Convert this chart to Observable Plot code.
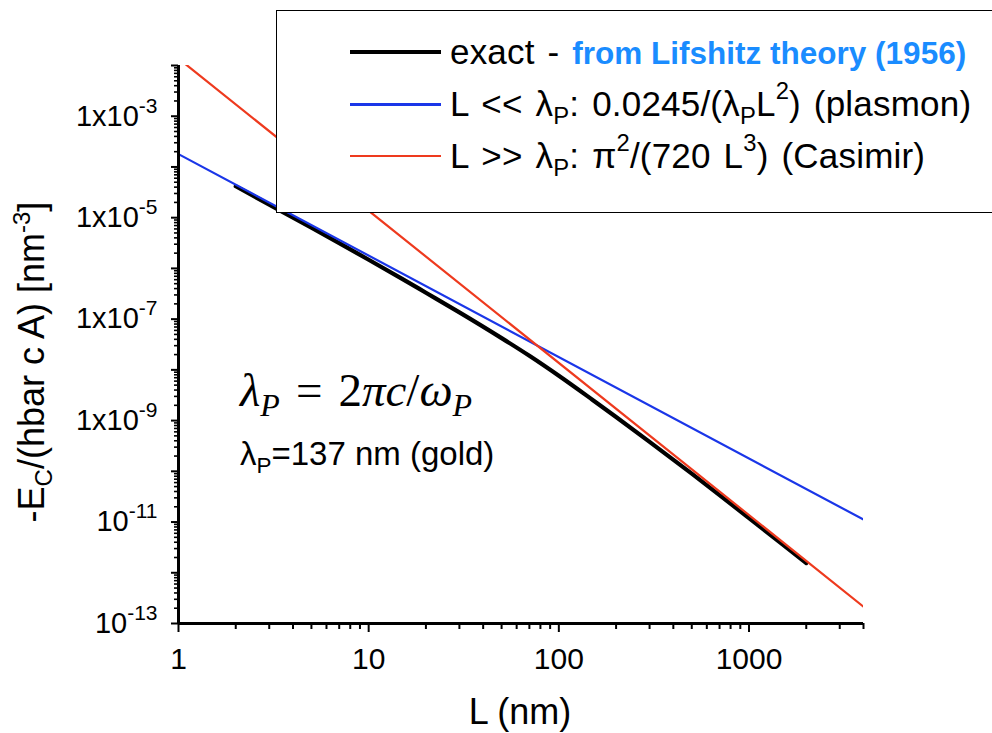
<!DOCTYPE html>
<html>
<head>
<meta charset="utf-8">
<script src="https://cdn.jsdelivr.net/npm/d3@7"></script>
<script src="https://cdn.jsdelivr.net/npm/@observablehq/plot@0.6"></script>
<style>
  body { margin: 0; background: #fff; }
  #wrap { position: relative; width: 992px; height: 733px; overflow: hidden;
          font-family: Arial, "Liberation Sans", sans-serif; color: #000; }
  #wrap svg { position: absolute; left: 0; top: 0; }
  #legend { position: absolute; left: 276px; top: 10px; width: 760px; height: 203px;
            border: 1.5px solid #000; background: #fff; box-sizing: border-box; }
  .row { position: absolute; left: 0; height: 40px; line-height: 40px; white-space: nowrap; }
  .sw { position: absolute; left: 73px; width: 91px; top: 50%; }
  .lt { position: absolute; left: 173px; top: 0; font-size: 35px; word-spacing: 3px; letter-spacing: 0.2px; }
  .lt sub, .lt sup, .ann sub, .ann sup { font-size: 0.68em; line-height: 0; position: relative; vertical-align: baseline; }
  .lt sub { top: 0.35em; }
  .lt sup { top: -0.7em; }
  .blue { color: #1a8cff; font-weight: bold; font-size: 31.5px; letter-spacing: 0; word-spacing: 0; }
  .ann { position: absolute; white-space: nowrap; line-height: 1; }
  #math { left: 240px; top: 367px; font-family: "Liberation Serif", "DejaVu Serif", serif; font-size: 47px; }
  #math i { font-style: italic; }
  #math sub { top: 0.3em; font-size: 0.68em; }
  #gold { left: 240px; top: 437px; font-size: 33px; }
  #gold sub { top: 0.35em; }
</style>
</head>
<body>
<div id="wrap"></div>
<script>
// ---- data ----
const exactL = [2, 3, 5, 7, 10, 15, 20, 30, 50, 70, 100, 150, 200, 300, 500, 700, 1000, 1500, 2000];
const exactE = [4.16e-5, 1.811e-5, 6.326e-6, 3.141e-6, 1.484e-6, 6.237e-7, 3.319e-7, 1.361e-7, 4.227e-8, 1.893e-8,
                7.647e-9, 2.581e-9, 1.179e-9, 3.809e-10, 8.976e-11, 3.397e-11, 1.198e-11, 3.64e-12, 1.553e-12];
const plasmonL = [1, 4000];
const plasmonE = [1.79e-4, 1.12e-11];
const casimirL = [1, 4000];
const casimirE = [1.37e-2, 2.14e-13];
const xMajor = [1, 10, 100, 1000];
const yExponents = [-2, -3, -4, -5, -6, -7, -8, -9, -10, -11, -12, -13];
const seriesNames = ["exact", "plasmon", "Casimir"];

const colors = { exact: "#000000", plasmon: "#1a36e8", Casimir: "#ee3a1e" };

const exact = exactL.map((L, i) => ({ L, E: exactE[i] }));
const plasmon = plasmonL.map((L, i) => ({ L, E: plasmonE[i] }));
const casimir = casimirL.map((L, i) => ({ L, E: casimirE[i] }));

// tick positions
const xMinor = [];
for (const d of [1, 10, 100, 1000]) for (let k = 2; k <= 9; k++) if (d * k <= 4000) xMinor.push(d * k);
const yMajor = yExponents.map(e => Math.pow(10, e));
const yMinor = [];
for (let e = -13; e < -2; e++) for (let k = 2; k <= 9; k++) yMinor.push(k * Math.pow(10, e));

const FONT = 'Arial, "Liberation Sans", sans-serif';

const chart = Plot.plot({
  width: 992, height: 733,
  marginLeft: 178, marginRight: 129, marginTop: 65, marginBottom: 110,
  style: { fontFamily: FONT, background: "transparent", color: "#000", overflow: "visible" },
  x: { type: "log", domain: [1, 4000] },
  y: { type: "log", domain: [1e-13, 1e-2] },
  marks: [
    Plot.axisX(xMinor, { tickSize: 6, tickFormat: () => "", strokeWidth: 2, label: null }),
    Plot.axisX(xMajor, { tickSize: 9, tickPadding: 15, fontSize: 30, strokeWidth: 2, label: null, tickFormat: d => String(d) }),
    Plot.axisY(yMinor, { tickSize: 4, tickFormat: () => "", strokeWidth: 1.6, label: null }),
    Plot.axisY(yMajor, { tickSize: 7, tickPadding: 14, fontSize: 29, strokeWidth: 2, label: null,
      tickFormat: d => {
        const e = Math.round(Math.log10(d));
        if (e % 2 === 0) return "";
        return (e >= -9 ? "1x10" : "10") + "^" + e;
      } }),
    Plot.line(exact, { x: "L", y: "E", stroke: colors.exact, strokeWidth: 4.2, curve: "monotone-x" }),
    Plot.line(plasmon, { x: "L", y: "E", stroke: colors.plasmon, strokeWidth: 2.2, clip: true }),
    Plot.line(casimir, { x: "L", y: "E", stroke: colors.Casimir, strokeWidth: 2.2, clip: true }),
    Plot.ruleX([1], { stroke: "#000", strokeWidth: 3 }),
    Plot.ruleY([1e-13], { stroke: "#000", strokeWidth: 3 })
  ]
});

const wrap = document.getElementById("wrap");
wrap.appendChild(chart);

// superscripts in y tick labels
const NS = "http://www.w3.org/2000/svg";
chart.querySelectorAll("text").forEach(t => {
  const s = t.textContent;
  if (s.includes("^")) {
    const [base, exp] = s.split("^");
    t.textContent = "";
    const b = document.createElementNS(NS, "tspan");
    b.textContent = base;
    const p = document.createElementNS(NS, "tspan");
    p.textContent = exp;
    p.setAttribute("font-size", "21");
    p.setAttribute("dy", "-13");
    t.appendChild(b); t.appendChild(p);
  }
});

// axis titles
const svg = d3.select(chart);
svg.append("text").attr("x", 520).attr("y", 724).attr("text-anchor", "middle")
  .attr("font-size", 36).attr("font-family", FONT).attr("fill", "#000").text("L (nm)");

const yt = svg.append("text").attr("transform", "translate(44,362) rotate(-90)")
  .attr("text-anchor", "middle").attr("font-size", 36).attr("font-family", FONT).attr("fill", "#000");
yt.append("tspan").text("-E");
yt.append("tspan").attr("font-size", 24).attr("dy", 8).text("C");
yt.append("tspan").attr("dy", -8).text("/(hbar c A) [nm");
yt.append("tspan").attr("font-size", 24).attr("dy", -14).text("-3");
yt.append("tspan").attr("dy", 14).text("]");

// legend
const legend = document.createElement("div");
legend.id = "legend";
const rowsHTML = [
  'exact - <span class="blue">from Lifshitz theory (1956)</span>',
  'L &lt;&lt; λ<sub>P</sub>: 0.0245/(λ<sub>P</sub>L<sup>2</sup>) (plasmon)',
  'L &gt;&gt; λ<sub>P</sub>: π<sup>2</sup>/(720 L<sup>3</sup>) (Casimir)'
];
const rowTops = [21, 73, 125];
const swWidth = [4, 3, 2.5];
seriesNames.forEach((name, i) => {
  const row = document.createElement("div");
  row.className = "row";
  row.style.top = rowTops[i] + "px";
  row.style.width = "100%";
  const sw = document.createElement("div");
  sw.className = "sw";
  sw.style.borderTop = swWidth[i] + "px solid " + colors[name];
  sw.style.marginTop = (-swWidth[i] / 2) + "px";
  const lt = document.createElement("div");
  lt.className = "lt";
  lt.innerHTML = rowsHTML[i];
  row.appendChild(sw); row.appendChild(lt);
  legend.appendChild(row);
});
wrap.appendChild(legend);

// annotations
const math = document.createElement("div");
math.className = "ann"; math.id = "math";
math.innerHTML = '<i>λ</i><sub><i>P</i></sub><span style="margin:0 16px">=</span>2<i>πc</i>/<i>ω</i><sub><i>P</i></sub>';
wrap.appendChild(math);
const gold = document.createElement("div");
gold.className = "ann"; gold.id = "gold";
gold.innerHTML = 'λ<sub>P</sub>=137 nm (gold)';
wrap.appendChild(gold);
</script>
</body>
</html>
